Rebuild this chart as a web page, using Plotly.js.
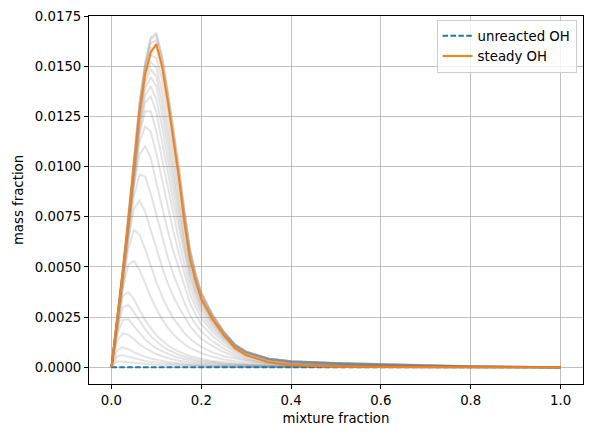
<!DOCTYPE html>
<html>
<head>
<meta charset="utf-8">
<script src="https://cdn.plot.ly/plotly-3.0.1.min.js"></script>
<style>html,body{margin:0;padding:0;background:#fff;}#chart{width:594px;height:437px;}</style>
</head>
<body>
<div id="chart"></div>
<script>
// mixture fraction grid
const mixFrac = [0, 0.0125, 0.025, 0.0375, 0.05, 0.0625, 0.075, 0.0875, 0.1, 0.1125, 0.125, 0.1375, 0.15, 0.1625, 0.175, 0.1875, 0.2, 0.225, 0.25, 0.275, 0.3, 0.35, 0.4, 0.5, 0.6, 0.7, 0.8, 1.0];
// OH mass fraction values in units of 1e-3
const unreactedOH = [0,0,0,0,0,0,0,0,0,0,0,0,0,0,0,0,0,0,0,0,0,0,0,0,0,0,0,0];
const steadyOH = [0, 2.3, 4.6, 7.3, 10.1, 12.7, 14.6, 15.7, 16.1, 15.0, 13.3, 11.4, 9.5, 7.2, 5.4, 4.3, 3.4, 2.4, 1.6, 0.95, 0.6, 0.25, 0.1, 0.03, 0.01, 0, 0, 0];
// transient OH profiles (gray), early to late
const t01 = [0, 0.3, 0.28, 0.25, 0.22, 0.19, 0.16, 0.14, 0.12, 0.10, 0.09, 0.08, 0.07, 0.06, 0.05, 0.045, 0.04, 0.03, 0.025, 0.02, 0.015, 0.01, 0.008, 0.005, 0.003, 0.002, 0.001, 0];
const t02 = [0, 0.55, 0.6, 0.52, 0.45, 0.38, 0.32, 0.27, 0.23, 0.2, 0.17, 0.15, 0.13, 0.11, 0.1, 0.09, 0.08, 0.06, 0.05, 0.04, 0.03, 0.02, 0.015, 0.01, 0.006, 0.004, 0.002, 0];
const t03 = [0, 0.85, 1.0, 0.9, 0.75, 0.62, 0.52, 0.44, 0.37, 0.31, 0.26, 0.22, 0.19, 0.16, 0.14, 0.12, 0.1, 0.08, 0.06, 0.05, 0.04, 0.03, 0.02, 0.015, 0.01, 0.006, 0.003, 0];
const t04 = [0, 1.3, 1.7, 1.62, 1.4, 1.15, 0.95, 0.8, 0.66, 0.55, 0.46, 0.39, 0.33, 0.28, 0.24, 0.2, 0.17, 0.13, 0.1, 0.08, 0.06, 0.04, 0.03, 0.02, 0.012, 0.008, 0.004, 0];
const t05 = [0, 1.6, 2.35, 2.4, 2.05, 1.7, 1.4, 1.15, 0.95, 0.8, 0.67, 0.56, 0.47, 0.4, 0.34, 0.29, 0.25, 0.19, 0.15, 0.12, 0.09, 0.06, 0.045, 0.03, 0.02, 0.012, 0.006, 0];
const t06 = [0, 1.75, 3.0, 3.1, 2.75, 2.3, 1.9, 1.55, 1.28, 1.06, 0.88, 0.74, 0.62, 0.52, 0.44, 0.38, 0.33, 0.25, 0.19, 0.15, 0.12, 0.08, 0.06, 0.04, 0.025, 0.015, 0.008, 0];
const t07 = [0, 1.85, 3.55, 3.75, 3.4, 2.85, 2.35, 1.95, 1.6, 1.33, 1.1, 0.92, 0.78, 0.66, 0.56, 0.48, 0.41, 0.31, 0.24, 0.19, 0.15, 0.1, 0.07, 0.05, 0.03, 0.02, 0.01, 0];
const t08 = [0, 1.9, 3.9, 5.1, 5.3, 4.85, 4.15, 3.5, 2.9, 2.4, 2.0, 1.65, 1.38, 1.15, 0.97, 0.82, 0.7, 0.52, 0.39, 0.3, 0.23, 0.15, 0.11, 0.07, 0.045, 0.028, 0.014, 0];
const t09 = [0, 2.0, 4.1, 5.9, 6.85, 6.6, 5.9, 5.05, 4.25, 3.55, 2.95, 2.45, 2.05, 1.7, 1.43, 1.2, 1.02, 0.74, 0.55, 0.42, 0.32, 0.2, 0.14, 0.09, 0.055, 0.033, 0.016, 0];
const t10 = [0, 2.05, 4.2, 6.3, 7.9, 8.3, 7.75, 6.8, 5.9, 5.0, 4.2, 3.55, 3.0, 2.5, 2.05, 1.7, 1.42, 1.05, 0.76, 0.52, 0.37, 0.2, 0.13, 0.09, 0.06, 0.038, 0.019, 0];
const t11 = [0, 2.1, 4.3, 6.5, 8.5, 9.6, 9.5, 8.65, 7.6, 6.5, 5.5, 4.65, 3.92, 3.23, 2.6, 2.15, 1.78, 1.3, 0.93, 0.63, 0.44, 0.24, 0.16, 0.11, 0.07, 0.045, 0.022, 0];
const t12 = [0, 2.15, 4.35, 6.7, 9.0, 10.6, 11.0, 10.45, 9.2, 8.0, 6.85, 5.8, 4.9, 4.0, 3.2, 2.62, 2.15, 1.56, 1.11, 0.74, 0.51, 0.28, 0.18, 0.12, 0.08, 0.05, 0.025, 0];
const t13 = [0, 2.2, 4.4, 6.8, 9.2, 11.2, 12.0, 11.75, 10.65, 9.35, 8.05, 6.8, 5.7, 4.65, 3.67, 3.0, 2.45, 1.77, 1.26, 0.83, 0.57, 0.31, 0.2, 0.14, 0.09, 0.055, 0.028, 0];
const t14 = [0, 2.2, 4.45, 6.9, 9.4, 11.6, 12.75, 12.75, 11.75, 10.4, 9.0, 7.6, 6.35, 5.15, 4.05, 3.3, 2.68, 1.93, 1.37, 0.9, 0.62, 0.34, 0.22, 0.15, 0.095, 0.06, 0.03, 0];
const t15 = [0, 2.25, 4.5, 7.0, 9.5, 11.8, 13.2, 13.5, 12.7, 11.3, 9.8, 8.3, 6.95, 5.6, 4.38, 3.56, 2.88, 2.07, 1.46, 0.96, 0.66, 0.36, 0.24, 0.16, 0.1, 0.065, 0.032, 0];
const t16 = [0, 2.25, 4.5, 7.05, 9.6, 12.0, 13.55, 14.0, 13.35, 12.0, 10.45, 8.85, 7.4, 5.95, 4.62, 3.75, 3.03, 2.17, 1.52, 1.0, 0.69, 0.38, 0.26, 0.17, 0.11, 0.07, 0.035, 0];
const t17 = [0, 2.3, 4.55, 7.1, 9.7, 12.2, 13.9, 14.45, 14.0, 12.65, 11.05, 9.4, 7.85, 6.25, 4.85, 3.92, 3.16, 2.26, 1.58, 1.03, 0.71, 0.4, 0.27, 0.18, 0.12, 0.075, 0.038, 0];
const t18 = [0, 2.3, 4.6, 7.15, 9.8, 12.4, 14.2, 14.85, 14.5, 13.2, 11.6, 9.9, 8.25, 6.55, 5.05, 4.08, 3.28, 2.34, 1.63, 1.06, 0.73, 0.41, 0.28, 0.19, 0.13, 0.08, 0.04, 0];
const t19 = [0, 2.3, 4.6, 7.2, 9.9, 12.5, 14.4, 15.2, 14.95, 13.75, 12.15, 10.4, 8.65, 6.85, 5.25, 4.22, 3.38, 2.4, 1.67, 1.08, 0.75, 0.42, 0.29, 0.2, 0.14, 0.08, 0.04, 0];
const t20 = [0, 2.3, 4.65, 7.25, 10.0, 12.7, 14.6, 15.55, 15.4, 14.35, 12.8, 11.0, 9.2, 7.2, 5.45, 4.37, 3.5, 2.48, 1.72, 1.1, 0.76, 0.43, 0.3, 0.2, 0.14, 0.085, 0.045, 0];
const t21 = [0, 2.35, 4.7, 7.35, 10.2, 12.9, 14.8, 15.9, 15.9, 14.85, 13.25, 11.4, 9.55, 7.45, 5.62, 4.5, 3.6, 2.55, 1.75, 1.12, 0.77, 0.43, 0.3, 0.21, 0.15, 0.09, 0.05, 0];
const t22 = [0, 2.35, 4.75, 7.45, 10.35, 13.0, 15.0, 16.15, 16.3, 15.25, 13.6, 11.7, 9.8, 7.65, 5.75, 4.6, 3.66, 2.58, 1.76, 1.12, 0.77, 0.43, 0.3, 0.21, 0.15, 0.09, 0.05, 0];
const t23 = [0, 2.4, 4.8, 7.55, 10.45, 13.15, 15.1, 16.35, 16.55, 15.45, 13.75, 11.85, 9.95, 7.75, 5.85, 4.65, 3.7, 2.62, 1.78, 1.14, 0.78, 0.43, 0.3, 0.21, 0.15, 0.09, 0.05, 0];
const t24 = [0, 2.4, 4.8, 7.6, 10.5, 13.2, 15.2, 16.45, 16.65, 15.55, 13.85, 11.95, 10.05, 7.85, 5.9, 4.7, 3.75, 2.65, 1.8, 1.15, 0.79, 0.44, 0.3, 0.21, 0.15, 0.09, 0.05, 0];
const transients = [t01,t02,t03,t04,t05,t06,t07,t08,t09,t10,t11,t12,t13,t14,t15,t16,t17,t18,t19,t20,t21,t22,t23,t24];
const xTicks = [0, 0.2, 0.4, 0.6, 0.8, 1.0];
const yTicks = [0, 0.0025, 0.005, 0.0075, 0.01, 0.0125, 0.015, 0.0175];

const toMass = a => a.map(v => v / 1000);
const traces = [];
transients.forEach(t => {
  traces.push({x: mixFrac, y: toMass(t), type: 'scatter', mode: 'lines',
    line: {color: 'rgba(128,128,128,0.22)', width: 2}, showlegend: false, hoverinfo: 'skip'});
});
traces.push({x: mixFrac, y: toMass(unreactedOH), type: 'scatter', mode: 'lines', name: 'unreacted OH',
  line: {color: '#1f77b4', width: 2, dash: '5.5px,2.4px'}});
traces.push({x: mixFrac, y: toMass(steadyOH), type: 'scatter', mode: 'lines', name: 'steady OH',
  line: {color: '#ff7f0e', width: 2}});

const font = {family: 'DejaVu Sans, sans-serif', size: 13.3, color: '#000'};
const layout = {
  width: 594, height: 437,
  margin: {l: 89, r: 10.5, t: 16, b: 53, pad: 0},
  paper_bgcolor: '#fff', plot_bgcolor: '#fff',
  font: font,
  showlegend: true,
  xaxis: {
    range: [-0.05, 1.05], tickvals: xTicks, ticktext: xTicks.map(v => v.toFixed(1)),
    showgrid: true, gridcolor: '#b0b0b0', gridwidth: 0.8, zeroline: false,
    showline: true, linecolor: '#000', linewidth: 1, mirror: true,
    ticks: 'outside', ticklen: 4, tickcolor: '#000', tickwidth: 1,
    title: {text: 'mixture fraction', font: font, standoff: 6}
  },
  yaxis: {
    range: [-0.000833, 0.0175], tickvals: yTicks, ticktext: yTicks.map(v => v.toFixed(4)),
    showgrid: true, gridcolor: '#b0b0b0', gridwidth: 0.8, zeroline: false,
    showline: true, linecolor: '#000', linewidth: 1, mirror: true,
    ticks: 'outside', ticklen: 4, tickcolor: '#000', tickwidth: 1,
    title: {text: 'mass fraction', font: font, standoff: 8}
  },
  legend: {
    x: 0.987, y: 0.99, xanchor: 'right', yanchor: 'top',
    bgcolor: 'rgba(255,255,255,0.8)', bordercolor: '#cccccc', borderwidth: 1,
    font: font, itemwidth: 30, tracegroupgap: 0
  }
};
Plotly.newPlot('chart', traces, layout, {displayModeBar: false, staticPlot: true});
</script>
</body>
</html>
